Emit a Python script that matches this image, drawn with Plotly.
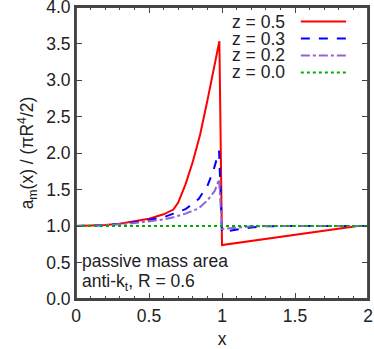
import plotly.graph_objects as go

# z = 0.5 (red, solid)
x_05 = [0, 0.1, 0.2, 0.3, 0.4, 0.5, 0.6, 0.667, 0.7, 0.75, 0.8, 0.85, 0.9, 0.93, 0.96, 0.982, 1.0, 1.93, 2.0]
y_05 = [1.0, 1.003, 1.012, 1.03, 1.06, 1.1, 1.16, 1.225, 1.32, 1.57, 1.88, 2.25, 2.72, 3.02, 3.32, 3.53, 0.74, 1.0, 1.0]

# z = 0.3 (blue, dashed)
x_03 = [0, 0.2, 0.4, 0.5, 0.6, 0.667, 0.75, 0.84, 0.9, 0.94, 0.98, 1.0, 1.1, 1.2, 1.3, 1.4, 2.0]
y_03 = [1.0, 1.01, 1.05, 1.08, 1.12, 1.17, 1.23, 1.37, 1.55, 1.75, 2.03, 0.92, 0.955, 0.98, 0.995, 1.0, 1.0]

# z = 0.2 (purple, dash-dot)
x_02 = [0, 0.2, 0.4, 0.5, 0.6, 0.667, 0.75, 0.84, 0.9, 0.95, 0.98, 1.0, 1.1, 1.2, 1.3, 2.0]
y_02 = [1.0, 1.01, 1.04, 1.06, 1.09, 1.12, 1.17, 1.24, 1.35, 1.48, 1.64, 0.96, 0.98, 0.995, 1.0, 1.0]

# z = 0.0 (green, dotted)
x_00 = [0, 2.0]
y_00 = [1.0, 1.0]

labels = ["z = 0.5", "z = 0.3", "z = 0.2", "z = 0.0"]
colors = ["#ff0000", "#0000ff", "#9064d4", "#00b000"]
dashes = ["solid", "dash", "dashdot", "dot"]

FONT = "Liberation Sans, Arial, sans-serif"
FS = 17.5
TXT = "#222"
FRAME = "#444"

fig = go.Figure()
for xs, ys, c, d, name in zip([x_05, x_03, x_02, x_00], [y_05, y_03, y_02, y_00], colors, dashes, labels):
    fig.add_trace(go.Scatter(x=xs, y=ys, mode="lines", name=name,
                             line=dict(color=c, dash=d, width=2), showlegend=False))

# gnuplot-style key: text right-aligned, sample line on the right
for i, (name, c, d) in enumerate(zip(labels, colors, dashes)):
    yp = 0.95 - i * 0.058
    fig.add_annotation(x=0.722, y=yp, xref="paper", yref="paper", text=name, showarrow=False,
                       xanchor="right", yanchor="middle", font=dict(size=FS, color=TXT))
    fig.add_shape(type="line", xref="paper", yref="paper", x0=0.77, x1=0.925, y0=yp, y1=yp,
                  line=dict(color=c, dash=d, width=2))

fig.add_annotation(x=0.015, y=0.13, xref="paper", yref="paper", text="passive mass area", showarrow=False,
                   xanchor="left", yanchor="middle", font=dict(size=FS, color=TXT))
fig.add_annotation(x=0.015, y=0.055, xref="paper", yref="paper", text="anti-k<sub>t</sub>, R = 0.6", showarrow=False,
                   xanchor="left", yanchor="middle", font=dict(size=FS, color=TXT))

# plot frame
fig.add_shape(type="rect", xref="paper", yref="paper", x0=0, x1=1, y0=0, y1=1,
              line=dict(color=FRAME, width=1.8), layer="above")

axis_common = dict(showgrid=False, zeroline=False, showline=True, linecolor=FRAME, linewidth=1.8,
                   mirror="allticks", ticks="inside", tickcolor=FRAME, ticklen=6, tickwidth=1.2,
                   tickfont=dict(size=FS, color=TXT), automargin=False, ticklabeloverflow="allow")

fig.update_xaxes(range=[0, 2], dtick=0.5, title=dict(text="x", font=dict(size=FS, color=TXT), standoff=11),
                 minor=dict(dtick=0.1, ticks="inside", ticklen=3, tickwidth=1.2, tickcolor=FRAME), **axis_common)
fig.update_yaxes(range=[0, 4], dtick=0.5, tickformat=".1f",
                 title=dict(text="a<sub>m</sub>(x) / (πR<sup>4</sup>/2)", font=dict(size=FS, color=TXT), standoff=8),
                 **axis_common)

fig.update_layout(width=374, height=349,
                  margin=dict(l=76, r=6, t=7, b=50),
                  paper_bgcolor="white", plot_bgcolor="white",
                  font=dict(family=FONT, size=FS, color=TXT))

# drop the page's default body margin and any scrollbars so the figure fills the window
fig.write_html("out.html", config={"displayModeBar": False},
               post_script="document.body.style.margin='0';"
                           "document.body.style.overflow='hidden';"
                           "document.documentElement.style.overflow='hidden';")
